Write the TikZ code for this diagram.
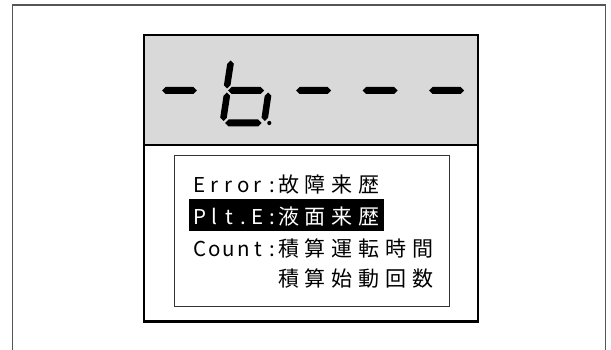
\documentclass[tikz,border=0pt]{standalone}
\usepackage{fontspec}
\setmainfont{Noto Sans CJK JP}
\definecolor{framegray}{HTML}{555555}
\definecolor{lcdgray}{HTML}{D9D9D9}
\definecolor{boxgray}{HTML}{333333}
\makeatletter
\newcommand\cellrow[2]{\@tfor\cellch:=#2\do{\makebox[#1]{\cellch}}}
\makeatother
\newcommand\hseg[3]{\fill[segfill] (#1,#3) -- (#1+3.5,#3-3.5) -- (#2-3.5,#3-3.5) -- (#2,#3) -- (#2-3.5,#3+3.5) -- (#1+3.5,#3+3.5) -- cycle;}
\newcommand\vseg[4]{\fill[segfill] (#1,#2) -- (#1+3.3,#2+3.3) -- (#3+3.3,#4-3.3) -- (#3,#4) -- (#3-3.3,#4-3.3) -- (#1-3.3,#2+3.3) -- cycle;}
\tikzset{
  segfill/.style={fill=black},
  lat/.style={inner sep=0pt, anchor=base west, font=\fontsize{20.5}{22}\selectfont},
  cjk/.style={inner sep=0pt, anchor=base west, font=\fontsize{21}{22}\selectfont},
  outerframe/.style={draw=framegray, line width=1.2pt},
  devbox/.style={draw=black, line width=2.2pt},
  innerbox/.style={draw=boxgray, line width=1pt}
}
\begin{document}
\begin{tikzpicture}[x=1pt,y=-1pt]
\useasboundingbox (0,0) rectangle (611,350);
% outer frame (open at bottom)
\draw[outerframe] (12.8,350) -- (12.8,5) -- (605.5,5) -- (605.5,350);
% device
\fill[lcdgray] (144,35) rectangle (478,145);
\draw[devbox] (144,35) rectangle (478,321.5);
\draw[devbox] (144,145) -- (478,145);
% seven-segment display
\hseg{162}{196.8}{90.5}
\vseg{230.5}{60.5}{227.2}{88.5}
\vseg{226.8}{92.5}{223.5}{121}
\hseg{228}{264}{90.5}
\vseg{268}{92.5}{264.8}{121}
\hseg{225}{261.5}{123}
\fill (269.3,123) circle (2.1);
\hseg{296}{331}{90.5}
\hseg{362.5}{397.5}{90.5}
\hseg{429}{464}{90.5}
% inner text box
\draw[innerbox] (174.2,155.7) rectangle (449.5,306);
\fill[black] (188.7,199.5) rectangle (383.6,230.7);
\node[lat] (l1) at (192.5,193) {\cellrow{14.5pt}{Error:}};
\node[cjk] (j1) at (275,193) {\cellrow{26.8pt}{故障来歴}};
\node[lat, text=white] (l2) at (192.5,224.5) {\cellrow{14.5pt}{Plt.E:}};
\node[cjk, text=white] (j2) at (275,224.5) {\cellrow{26.8pt}{液面来歴}};
\node[lat] (l3) at (192.5,256) {\cellrow{14.5pt}{Count:}};
\node[cjk] (j3) at (275,256) {\cellrow{26.8pt}{積算運転時間}};
\node[cjk] (j4) at (275,287) {\cellrow{26.8pt}{積算始動回数}};
\end{tikzpicture}
\end{document}
